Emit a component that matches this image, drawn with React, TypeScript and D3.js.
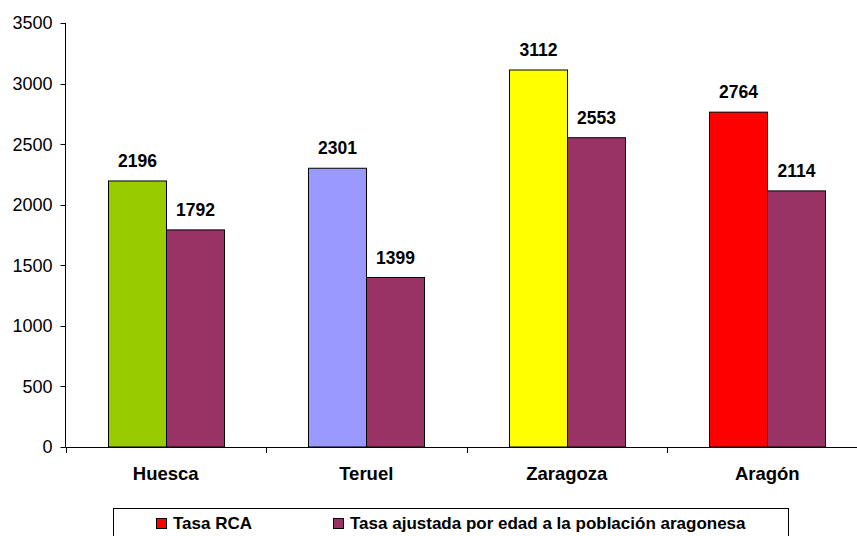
import React from "react";
import * as d3 from "d3";

const categories = ["Huesca", "Teruel", "Zaragoza", "Aragón"];
const tasaRCA = [2196, 2301, 3112, 2764];
const tasaAjustada = [1792, 1399, 2553, 2114];
const firstColors = ["#99CC00", "#9999FF", "#FFFF00", "#FF0000"];
const secondColor = "#993366";
const yTicks = [0, 500, 1000, 1500, 2000, 2500, 3000, 3500];
const legendLabels = ["Tasa RCA", "Tasa ajustada por edad a la población aragonesa"];
const legendColors = ["#FF0000", "#993366"];

const W = 857;
const H = 536;
const FONT = "Arial, 'Liberation Sans', sans-serif";

export default function App() {
  const x0 = 65.5;
  const bandW = 200.5;
  const x = d3
    .scaleBand<string>()
    .domain(categories)
    .range([x0, x0 + bandW * categories.length])
    .paddingInner(0)
    .paddingOuter(0);
  const y = d3.scaleLinear().domain([0, 3500]).range([447, 23]);
  const groupW = 116;
  const sub = d3
    .scaleBand<number>()
    .domain([0, 1])
    .range([(bandW - groupW) / 2, (bandW + groupW) / 2]);

  return (
    <svg
      width={W}
      height={H}
      style={{ position: "absolute", left: 0, top: 0, background: "#fff" }}
      fontFamily={FONT}
    >
      {/* bars */}
      {categories.map((c, i) => {
        const bx = x(c)!;
        const vals = [tasaRCA[i], tasaAjustada[i]];
        const cols = [firstColors[i], secondColor];
        return (
          <g key={c}>
            {vals.map((v, j) => {
              const left = Math.round(bx + sub(j)!) + 0.5;
              const w = sub.bandwidth();
              const top = y(v);
              return (
                <g key={j}>
                  <rect
                    x={left}
                    y={top}
                    width={w}
                    height={y(0) - top}
                    fill={cols[j]}
                    stroke="#000"
                    strokeWidth={1}
                  />
                  <text
                    x={left + w / 2}
                    y={top - 14}
                    textAnchor="middle"
                    fontSize={17.5}
                    fontWeight="bold"
                    fill="#000"
                  >
                    {v}
                  </text>
                </g>
              );
            })}
          </g>
        );
      })}

      {/* y axis */}
      <line x1={x0} x2={x0} y1={y(3500)} y2={y(0)} stroke="#000" strokeWidth={1} />
      {yTicks.map((t) => (
        <g key={t}>
          <line x1={x0 - 5} x2={x0} y1={Math.round(y(t)) + 0.5} y2={Math.round(y(t)) + 0.5} stroke="#000" />
          <text
            x={x0 - 13}
            y={y(t)}
            dy="0.36em"
            textAnchor="end"
            fontSize={18}
            fill="#000"
          >
            {t}
          </text>
        </g>
      ))}

      {/* x axis */}
      <line x1={x0} x2={W} y1={447.5} y2={447.5} stroke="#000" strokeWidth={1} />
      {categories.map((c) => (
        <line
          key={"t" + c}
          x1={Math.round(x(c)!) + 0.5}
          x2={Math.round(x(c)!) + 0.5}
          y1={447}
          y2={453}
          stroke="#000"
        />
      ))}
      {categories.map((c) => (
        <text
          key={"l" + c}
          x={x(c)! + bandW / 2}
          y={480}
          textAnchor="middle"
          fontSize={18.5}
          fontWeight="bold"
          fill="#000"
        >
          {c}
        </text>
      ))}

      {/* legend */}
      <rect x={113.5} y={508.5} width={675} height={40} fill="#fff" stroke="#000" strokeWidth={1} />
      {legendLabels.map((l, i) => {
        const sx = i === 0 ? 156.5 : 333.5;
        return (
          <g key={l}>
            <rect x={sx} y={518.5} width={10} height={10} fill={legendColors[i]} stroke="#000" />
            <text x={sx + 16.5} y={529} fontSize={17} fontWeight="bold" fill="#000">
              {l}
            </text>
          </g>
        );
      })}
    </svg>
  );
}
